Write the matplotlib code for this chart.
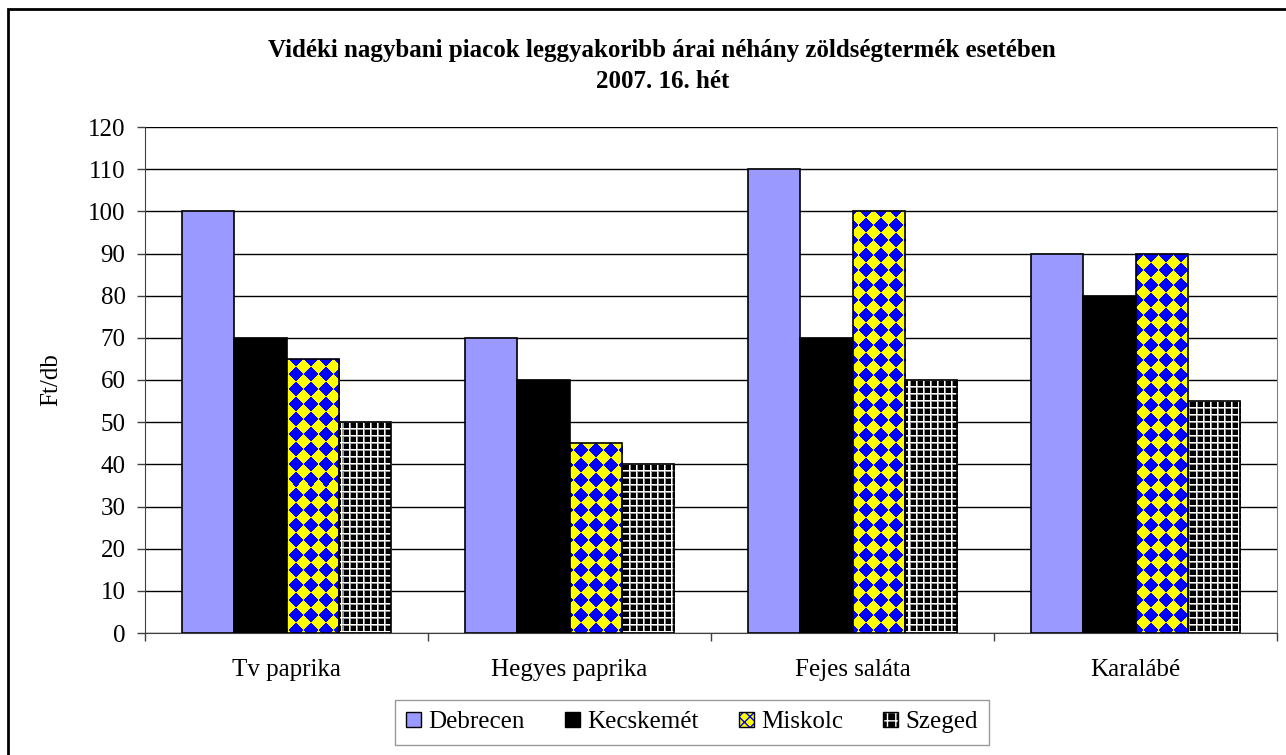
import numpy as np
import matplotlib
matplotlib.use('Agg')
import matplotlib.pyplot as plt
from matplotlib.patches import Patch, Rectangle
from matplotlib.legend_handler import HandlerTuple

# data
categories = ['Tv paprika', 'Hegyes paprika', 'Fejes saláta', 'Karalábé']
cities = ['Debrecen', 'Kecskemét', 'Miskolc', 'Szeged']
debrecen = [100, 70, 110, 90]
kecskemet = [70, 60, 70, 80]
miskolc = [65, 45, 100, 90]
szeged = [50, 40, 60, 55]
yticks = list(range(0, 121, 10))

plt.rcParams['font.family'] = ['Liberation Serif', 'DejaVu Serif']
FS = 18

fig = plt.figure(figsize=(12.86, 7.55), dpi=100)
ax = fig.add_axes([145 / 1286, 1 - 633 / 755, 1132 / 1286, 506 / 755])

x = np.arange(len(categories))
w = 0.184
offs = (np.arange(4) - 1.5) * w

ax.set_xlim(-0.5, len(categories) - 0.5)
ax.set_ylim(0, 120)

# axis-pixel size, used for the fill textures
W = int(round(ax.get_position().width * 1286))
H = int(round(ax.get_position().height * 755))
ii, jj = np.mgrid[0:H, 0:W]

# Miskolc: yellow diamonds on blue (rotated checker)
s = 15
chk = ((np.floor((jj + ii) / s) + np.floor((jj - ii) / s)) % 2) == 0
tex_m = np.zeros((H, W, 3))
tex_m[chk] = [1, 1, 0]
tex_m[~chk] = [0, 0, 1]

# Szeged: black with white grid
tex_s = np.zeros((H, W, 3))
g = 7
line0 = (ii % g == 0) | (jj % g == 0)
line1 = ((ii % g == 1) | (jj % g == 1)) & ~line0
tex_s[line0] = 1.0
tex_s[line1] = 0.6

ax.bar(x + offs[0], debrecen, w, color='#9999FF', edgecolor='black', lw=1.2, zorder=3)
ax.bar(x + offs[1], kecskemet, w, color='black', edgecolor='black', lw=1.2, zorder=3)

for vals, tex, k in [(miskolc, tex_m, 2), (szeged, tex_s, 3)]:
    bars = ax.bar(x + offs[k], vals, w, facecolor='none', edgecolor='black', lw=1.2, zorder=4)
    for b in bars:
        im = ax.imshow(tex, extent=(-0.5, len(categories) - 0.5, 0, 120),
                       aspect='auto', interpolation='nearest', zorder=3)
        im.set_clip_path(b)

ax.set_xlim(-0.5, len(categories) - 0.5)
ax.set_ylim(0, 120)

ax.set_yticks(yticks)
ax.yaxis.grid(True, color='black', lw=1)
ax.set_axisbelow(True)
ax.tick_params(axis='y', direction='out', length=6, width=1, color='#404040',
               pad=8, labelsize=FS)

ax.set_xticks(x)
ax.set_xticklabels(categories)
ax.set_xticks(np.arange(-0.5, len(categories)), minor=True)
ax.tick_params(axis='x', which='major', length=0, pad=19, labelsize=FS)
ax.tick_params(axis='x', which='minor', direction='out', length=6, width=1, color='#404040')

ax.spines['top'].set_visible(False)
ax.spines['right'].set_color('#808080')
ax.spines['left'].set_color('#404040')
ax.spines['bottom'].set_color('#404040')

ax.set_ylabel('Ft/db', fontsize=FS)
ax.yaxis.set_label_coords(-0.073, 0.5)

fig.text(0.515, 1 - 50 / 755, 'Vidéki nagybani piacok leggyakoribb árai néhány zöldségtermék esetében',
         ha='center', va='center', fontsize=18, fontweight='bold')
fig.text(0.515, 1 - 82 / 755, '2007. 16. hét', ha='center', va='center', fontsize=18, fontweight='bold')

handles = [
    Patch(facecolor='#9999FF', edgecolor='black'),
    Patch(facecolor='black', edgecolor='black'),
    (Patch(facecolor='yellow', edgecolor='blue', hatch='xxx', lw=0), Patch(facecolor='none', edgecolor='black')),
    (Patch(facecolor='black', edgecolor='white', hatch='++', lw=0), Patch(facecolor='none', edgecolor='black')),
]
leg = fig.legend(handles, cities, loc='upper center', bbox_to_anchor=(692 / 1286, 1 - 700 / 755),
                 ncol=4, fontsize=FS, frameon=True, fancybox=False, edgecolor='#808080',
                 handlelength=0.6, handleheight=0.6, handletextpad=0.3, columnspacing=1.6,
                 borderpad=0.45, borderaxespad=0, handler_map={tuple: HandlerTuple(ndivide=1)})
leg.get_frame().set_linewidth(1)

# outer frame of the chart
fig.add_artist(Rectangle((8 / 1286, -0.1), 1.2, 1.1 - 9 / 755, transform=fig.transFigure,
                         facecolor='none', edgecolor='black', lw=2))

fig.savefig('out.png', dpi=100)
